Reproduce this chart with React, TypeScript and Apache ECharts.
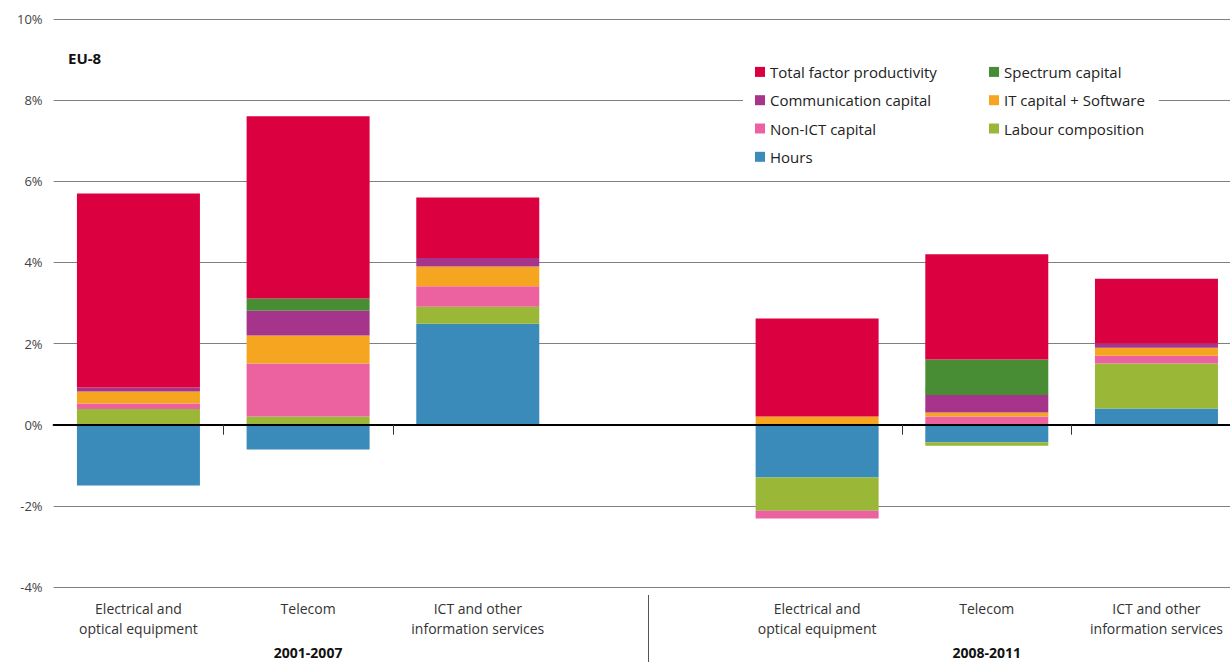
import React, { useEffect, useRef } from "react";
import * as echarts from "echarts";

const categories = [
  "Electrical and\noptical equipment",
  "Telecom",
  "ICT and other\ninformation services",
  "",
  "Electrical and\noptical equipment",
  "Telecom",
  "ICT and other\ninformation services",
];
const periods = ["2001-2007", "2008-2011"];
const periodAt: Record<number, string> = { 1: periods[0], 5: periods[1] };

const hours = [-1.5, -0.61, 2.49, null, -1.3, -0.43, 0.4];
const labour = [0.39, 0.2, 0.42, null, -0.82, -0.09, 1.11];
const nonIct = [0.13, 1.31, 0.5, null, -0.19, 0.2, 0.19];
const itSoftware = [0.3, 0.69, 0.49, null, 0.2, 0.1, 0.2];
const communication = [0.1, 0.61, 0.21, null, 0, 0.43, 0.1];
const spectrum = [0, 0.3, 0, null, 0, 0.88, 0];
const tfp = [4.78, 4.49, 1.49, null, 2.42, 2.59, 1.6];

const yTicks = { min: -4, max: 10, interval: 2 };

const seriesDefs = [
  { name: "Hours", data: hours, color: "#3A8BBA" },
  { name: "Labour composition", data: labour, color: "#9AB737" },
  { name: "Non-ICT capital", data: nonIct, color: "#EC619F" },
  { name: "IT capital + Software", data: itSoftware, color: "#F6A521" },
  { name: "Communication capital", data: communication, color: "#A6348A" },
  { name: "Spectrum capital", data: spectrum, color: "#488C33" },
  { name: "Total factor productivity", data: tfp, color: "#DB0040" },
];

const legendLeft = ["Total factor productivity", "Communication capital", "Non-ICT capital", "Hours"];
const legendRight = ["Spectrum capital", "IT capital + Software", "Labour composition"];

const FONT = "'Open Sans', 'Noto Sans', sans-serif";

export default function App() {
  const ref = useRef<HTMLDivElement>(null);
  useEffect(() => {
    if (!ref.current) return;
    const chart = echarts.init(ref.current, null, { renderer: "svg" });
    const legendCommon = {
      orient: "vertical",
      top: 52.75,
      itemWidth: 10,
      itemHeight: 10,
      itemGap: 10,
      itemTextGap: 8,
      icon: "rect",
      backgroundColor: "#ffffff",
      selectedMode: true,
      textStyle: { fontFamily: FONT, fontSize: 15, color: "#222", lineHeight: 18.3 },
    };
    chart.setOption({
      animation: false,
      textStyle: { fontFamily: FONT },
      title: {
        text: "EU-8",
        left: 68,
        top: 50,
        padding: 0,
        textStyle: { fontFamily: FONT, fontSize: 15, fontWeight: "bold", color: "#111" },
      },
      legend: [
        { ...legendCommon, left: 743, padding: [10, 40, 10, 12], data: legendLeft },
        { ...legendCommon, left: 939, padding: [10, 14, 10, 50], data: legendRight },
      ],
      grid: {
        left: 53.6,
        right: -11.3,
        top: 19,
        bottom: 75,
        containLabel: false,
        outerBoundsMode: "none",
      },
      xAxis: [
        {
          type: "category",
          data: categories,
          position: "bottom",
          axisLine: { onZero: true, lineStyle: { color: "#000", width: 2 } },
          axisTick: {
            show: true,
            length: 10,
            interval: (i: number) => i === 1 || i === 2 || i === 5 || i === 6,
            lineStyle: { color: "#333", width: 1 },
          },
          axisLabel: { show: false },
          z: 5,
        },
        {
          type: "category",
          data: categories,
          position: "bottom",
          offset: 0,
          axisLine: { show: false, onZero: false },
          axisTick: { show: false },
          axisLabel: {
            interval: 0,
            margin: 11,
            color: "#333",
            fontFamily: FONT,
            fontSize: 14,
            lineHeight: 20,
            formatter: (v: string, i: number) =>
              periodAt[i] ? `${v}\n{s| }\n{b|${periodAt[i]}}` : v,
            rich: {
              s: { fontSize: 14, lineHeight: 27 },
              b: { fontFamily: FONT, fontSize: 14, fontWeight: "bold", color: "#111", lineHeight: 14 },
            },
          },
        },
      ],
      yAxis: {
        type: "value",
        min: yTicks.min,
        max: yTicks.max,
        interval: yTicks.interval,
        axisLine: { show: false },
        axisTick: { show: false },
        axisLabel: {
          formatter: "{value}%",
          color: "#444",
          fontFamily: FONT,
          fontSize: 13,
          margin: 11,
        },
        splitLine: { lineStyle: { color: "#808080", width: 1 } },
      },
      graphic: [
        {
          type: "line",
          shape: { x1: 648.5, y1: 595, x2: 648.5, y2: 662 },
          style: { stroke: "#555", lineWidth: 1 },
        },
      ],
      series: seriesDefs.map((s) => ({
        name: s.name,
        type: "bar",
        stack: "total",
        barWidth: 123,
        data: s.data,
        itemStyle: { color: s.color },
        emphasis: { disabled: true },
      })),
    });
    return () => chart.dispose();
  }, []);
  return (
    <div
      ref={ref}
      style={{ position: "fixed", left: 0, top: 0, width: 1230, height: 662, background: "#fff" }}
    />
  );
}
